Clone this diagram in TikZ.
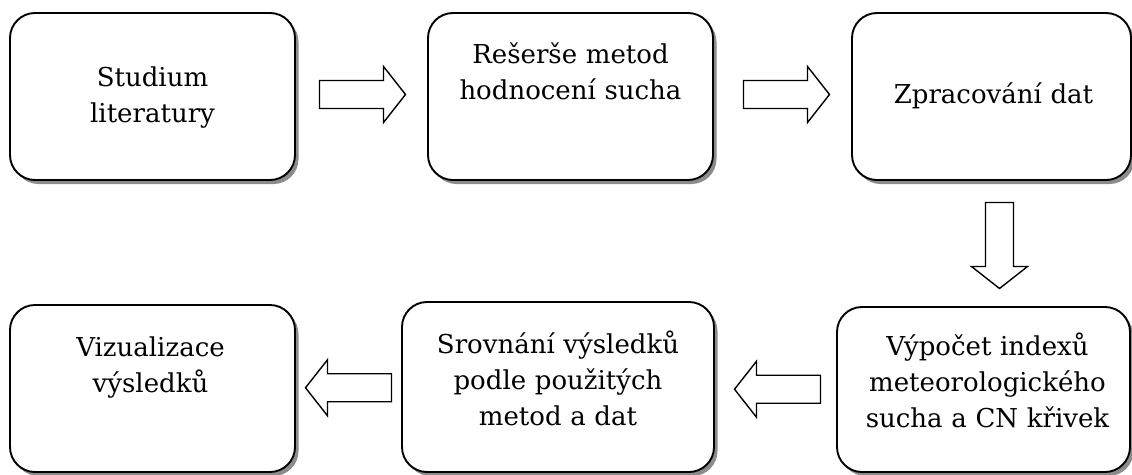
\documentclass[tikz,border=0pt]{standalone}
\usepackage{fontspec}
\setmainfont{DejaVu Serif}
\usetikzlibrary{shadows,calc}

\begin{document}
\begin{tikzpicture}[x=1pt,y=-1pt,
  stepbox/.style={draw=black, line width=1.9pt, rounded corners=25pt, fill=white,
    inner sep=0pt, outer sep=0pt,
    drop shadow={shadow xshift=3.5pt, shadow yshift=-4pt, fill=black!45, opacity=1}},
  steptext/.style={font=\fontsize{26}{36}\selectfont, align=center,
    text width=300pt, inner sep=0pt, anchor=base},
  blockarrow/.pic={
    \draw[line width=1.4pt, fill=white, line join=miter]
      (-43,-14) -- (21,-14) -- (21,-28) -- (43,0) -- (21,28) -- (21,14) -- (-43,14) -- cycle;}
]
\useasboundingbox (0,0) rectangle (1132,474);

% process steps
\node[stepbox, minimum width=285pt, minimum height=167pt] (b1) at (152.5,96.5) {};
\node[stepbox, minimum width=285pt, minimum height=167pt] (b2) at (570.5,96.5) {};
\node[stepbox, minimum width=279pt, minimum height=167pt] (b3) at (991.5,96.5) {};
\node[stepbox, minimum width=285pt, minimum height=167pt] (b4) at (152.5,388.5) {};
\node[stepbox, minimum width=312pt, minimum height=170pt] (b5) at (558,387) {};
\node[stepbox, minimum width=293pt, minimum height=165pt] (b6) at (983.5,389.5) {};

% step labels
\node[steptext] (t1) at ($(b1.north)+(0,73)$) {Studium\\literatury};
\node[steptext] (t2) at ($(b2.north)+(0,50)$) {Rešerše metod\\hodnocení sucha};
\node[steptext] (t3) at ($(b3.north)+(2,90)$) {Zpracování dat};
\node[steptext] (t4) at ($(b4.north)+(-2,51)$) {Vizualizace\\výsledků};
\node[steptext] (t5) at ($(b5.north)+(0,51)$) {Srovnání výsledků\\podle použitých\\metod a dat};
\node[steptext] (t6) at ($(b6.north)+(4,48)$) {Výpočet indexů\\meteorologického\\sucha a CN křivek};

% block arrows between the steps
\pic (a1) at ($(b1.east)!0.5!(b2.west)+(1,-2)$) {blockarrow};
\pic (a2) at ($(b2.east)!0.5!(b3.west)+(4,-2)$) {blockarrow};
\pic[rotate=-90] (a3) at ($(b3.south)!0.5!(b6.north)+(12,2)$) {blockarrow};
\pic[rotate=180] (a4) at ($(b6.west)!0.5!(b5.east)+(2,1)$) {blockarrow};
\pic[rotate=180] (a5) at ($(b5.west)!0.5!(b4.east)+(0,0)$) {blockarrow};
\end{tikzpicture}
\end{document}
